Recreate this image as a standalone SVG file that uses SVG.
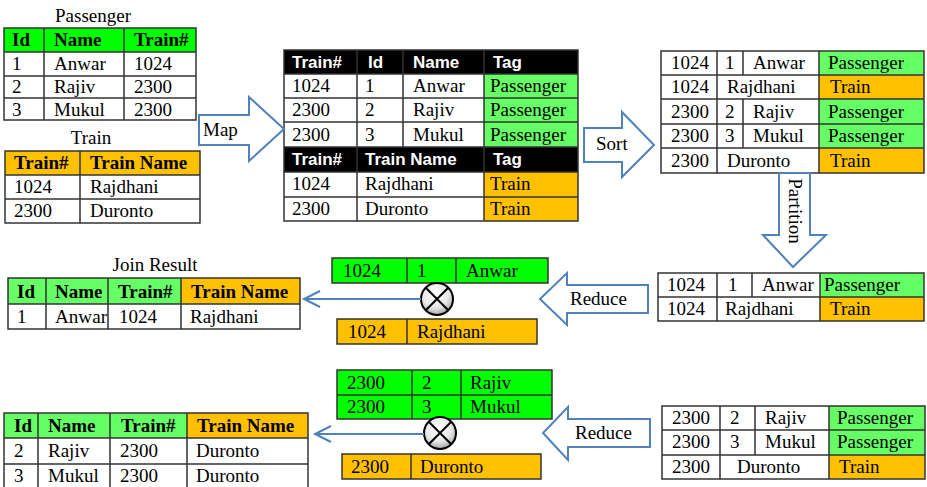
<svg xmlns="http://www.w3.org/2000/svg" width="927" height="487" viewBox="0 0 927 487">
<defs>
<style>
.t{font-family:"Liberation Serif","Times New Roman",serif;font-size:19px;fill:#000}
.b{font-weight:bold}
.h{font-family:"Liberation Sans",Arial,sans-serif;font-size:17px;font-weight:bold;fill:#fff}
.g1{fill:#00ff00}
.g2{fill:#66ff66}
.o{fill:#ffc000}
.k{fill:#000}
.grid{stroke:#333;stroke-width:1.5;fill:none}
.barrow{fill:#fff;stroke:#4f81bd;stroke-width:2}
.conn{stroke:#4f81bd;stroke-width:2;fill:none}
</style>
<radialGradient id="cg" cx="0.45" cy="0.35" r="0.7">
<stop offset="0" stop-color="#ffffff"/>
<stop offset="0.6" stop-color="#e6e6e6"/>
<stop offset="1" stop-color="#9a9a9a"/>
</radialGradient>
</defs>
<rect width="927" height="487" fill="#fff"/>

<!-- Passenger table -->
<g id="passenger">
<text class="t" x="93" y="22" text-anchor="middle">Passenger</text>
<rect class="g1" x="4" y="28" width="192" height="24"/>
<g class="grid">
<rect x="4" y="28" width="192" height="92"/>
<path d="M4 52H196M4 76H196M4 98H196M44 28V120M124 28V120"/>
</g>
<text class="t b" x="12" y="46">Id</text><text class="t b" x="54" y="46">Name</text><text class="t b" x="134" y="46">Train#</text>
<text class="t" x="12" y="70">1</text><text class="t" x="54" y="70">Anwar</text><text class="t" x="134" y="70">1024</text>
<text class="t" x="12" y="93">2</text><text class="t" x="54" y="93">Rajiv</text><text class="t" x="134" y="93">2300</text>
<text class="t" x="12" y="116">3</text><text class="t" x="54" y="116">Mukul</text><text class="t" x="134" y="116">2300</text>
</g>

<!-- Train table -->
<g id="train">
<text class="t" x="91" y="144" text-anchor="middle">Train</text>
<rect class="o" x="5" y="151" width="195" height="24"/>
<g class="grid">
<rect x="5" y="151" width="195" height="72"/>
<path d="M5 175H200M5 199H200M80 151V223"/>
</g>
<text class="t b" x="14" y="169">Train#</text><text class="t b" x="90" y="169">Train Name</text>
<text class="t" x="14" y="193">1024</text><text class="t" x="90" y="193">Rajdhani</text>
<text class="t" x="14" y="217">2300</text><text class="t" x="90" y="217">Duronto</text>
</g>

<!-- Map output table -->
<g id="mapped">
<rect class="k" x="284" y="50" width="294" height="24"/>
<rect class="k" x="284" y="147" width="294" height="25"/>
<rect class="g2" x="484" y="74" width="94" height="73"/>
<rect class="o" x="484" y="172" width="94" height="49"/>
<g class="grid">
<rect x="284" y="50" width="294" height="171"/>
<path d="M284 74H578M284 98H578M284 122H578M284 147H578M284 172H578M284 197H578M357 50V221M403 50V147M484 50V221"/>
</g>
<text class="h" x="292" y="68">Train#</text><text class="h" x="368" y="68">Id</text><text class="h" x="413" y="68">Name</text><text class="h" x="493" y="68">Tag</text>
<text class="t" x="292" y="92">1024</text><text class="t" x="365" y="92">1</text><text class="t" x="413" y="92">Anwar</text><text class="t" x="490" y="92">Passenger</text>
<text class="t" x="292" y="116">2300</text><text class="t" x="365" y="116">2</text><text class="t" x="413" y="116">Rajiv</text><text class="t" x="490" y="116">Passenger</text>
<text class="t" x="292" y="141">2300</text><text class="t" x="365" y="141">3</text><text class="t" x="413" y="141">Mukul</text><text class="t" x="490" y="141">Passenger</text>
<text class="h" x="292" y="165">Train#</text><text class="h" x="365" y="165">Train Name</text><text class="h" x="493" y="165">Tag</text>
<text class="t" x="292" y="190">1024</text><text class="t" x="365" y="190">Rajdhani</text><text class="t" x="490" y="190">Train</text>
<text class="t" x="292" y="215">2300</text><text class="t" x="365" y="215">Duronto</text><text class="t" x="490" y="215">Train</text>
</g>

<!-- Sorted table -->
<g id="sorted">
<rect class="g2" x="819" y="51" width="105" height="24"/>
<rect class="o" x="819" y="75" width="105" height="24"/>
<rect class="g2" x="819" y="99" width="105" height="49"/>
<rect class="o" x="819" y="148" width="105" height="25"/>
<g class="grid">
<rect x="661" y="51" width="263" height="122"/>
<path d="M661 75H924M661 99H924M661 124H924M661 148H924M717 51V173M743 51V75M743 99V148M819 51V173"/>
</g>
<text class="t" x="671" y="69">1024</text><text class="t" x="725" y="69">1</text><text class="t" x="753" y="69">Anwar</text><text class="t" x="828" y="69">Passenger</text>
<text class="t" x="671" y="93">1024</text><text class="t" x="727" y="93">Rajdhani</text><text class="t" x="830" y="93">Train</text>
<text class="t" x="671" y="118">2300</text><text class="t" x="725" y="118">2</text><text class="t" x="753" y="118">Rajiv</text><text class="t" x="828" y="118">Passenger</text>
<text class="t" x="671" y="142">2300</text><text class="t" x="725" y="142">3</text><text class="t" x="753" y="142">Mukul</text><text class="t" x="828" y="142">Passenger</text>
<text class="t" x="671" y="167">2300</text><text class="t" x="727" y="167">Duronto</text><text class="t" x="830" y="167">Train</text>
</g>

<!-- Partition 1 table -->
<g id="part1">
<rect class="g2" x="820" y="273" width="104" height="24"/>
<rect class="o" x="820" y="297" width="104" height="24"/>
<g class="grid">
<rect x="658" y="273" width="266" height="48"/>
<path d="M658 297H924M717 273V321M752 273V297M820 273V321"/>
</g>
<text class="t" x="667" y="291">1024</text><text class="t" x="728" y="291">1</text><text class="t" x="762" y="291">Anwar</text><text class="t" x="824" y="291">Passenger</text>
<text class="t" x="667" y="315">1024</text><text class="t" x="725" y="315">Rajdhani</text><text class="t" x="830" y="315">Train</text>
</g>

<!-- Partition 2 table -->
<g id="part2">
<rect class="g2" x="829" y="406" width="96" height="49"/>
<rect class="o" x="829" y="455" width="96" height="24"/>
<g class="grid">
<rect x="662" y="406" width="263" height="73"/>
<path d="M662 430H925M662 455H925M720 406V479M755 406V455M829 406V479"/>
</g>
<text class="t" x="672" y="424">2300</text><text class="t" x="730" y="424">2</text><text class="t" x="765" y="424">Rajiv</text><text class="t" x="837" y="424">Passenger</text>
<text class="t" x="672" y="448">2300</text><text class="t" x="730" y="448">3</text><text class="t" x="765" y="448">Mukul</text><text class="t" x="837" y="448">Passenger</text>
<text class="t" x="672" y="473">2300</text><text class="t" x="737" y="473">Duronto</text><text class="t" x="839" y="473">Train</text>
</g>

<!-- Reduce 1 inputs -->
<g id="reduce1-pass">
<rect class="g1" x="332" y="258" width="216" height="25"/>
<g class="grid"><rect x="332" y="258" width="216" height="25"/><path d="M407 258V283M456 258V283"/></g>
<text class="t" x="343" y="277">1024</text><text class="t" x="417" y="277">1</text><text class="t" x="466" y="277">Anwar</text>
</g>
<g id="reduce1-train">
<rect class="o" x="337" y="319" width="200" height="25"/>
<g class="grid"><rect x="337" y="319" width="200" height="25"/><path d="M407 319V344"/></g>
<text class="t" x="348" y="338">1024</text><text class="t" x="417" y="338">Rajdhani</text>
</g>

<!-- Reduce 2 inputs -->
<g id="reduce2-pass">
<rect class="g1" x="337" y="370" width="215" height="49"/>
<g class="grid"><rect x="337" y="370" width="215" height="49"/><path d="M337 395H552M412 370V419M461 370V419"/></g>
<text class="t" x="347" y="389">2300</text><text class="t" x="422" y="389">2</text><text class="t" x="470" y="389">Rajiv</text>
<text class="t" x="347" y="413">2300</text><text class="t" x="422" y="413">3</text><text class="t" x="470" y="413">Mukul</text>
</g>
<g id="reduce2-train">
<rect class="o" x="342" y="454" width="199" height="25"/>
<g class="grid"><rect x="342" y="454" width="199" height="25"/><path d="M411 454V479"/></g>
<text class="t" x="351" y="473">2300</text><text class="t" x="420" y="473">Duronto</text>
</g>

<!-- Join result 1 -->
<g id="join1">
<text class="t" x="155" y="271" text-anchor="middle">Join Result</text>
<rect class="g2" x="8" y="278" width="173" height="26"/>
<rect class="o" x="181" y="278" width="119" height="26"/>
<g class="grid">
<rect x="8" y="278" width="292" height="51"/>
<path d="M8 304H300M46 278V329M108 278V329M181 278V329"/>
</g>
<text class="t b" x="17" y="298">Id</text><text class="t b" x="55" y="298">Name</text><text class="t b" x="118" y="298">Train#</text><text class="t b" x="191" y="298">Train Name</text>
<text class="t" x="17" y="323">1</text><text class="t" x="55" y="323" textLength="52" lengthAdjust="spacingAndGlyphs">Anwar</text><text class="t" x="119" y="323">1024</text><text class="t" x="190" y="323">Rajdhani</text>
</g>

<!-- Join result 2 -->
<g id="join2">
<rect class="g2" x="4" y="413" width="183" height="25"/>
<rect class="o" x="187" y="413" width="121" height="25"/>
<g class="grid">
<rect x="4" y="413" width="304" height="76"/>
<path d="M4 438H308M4 464H308M38 413V489M110 413V489M187 413V489"/>
</g>
<text class="t b" x="14" y="432">Id</text><text class="t b" x="48" y="432">Name</text><text class="t b" x="121" y="432">Train#</text><text class="t b" x="197" y="432">Train Name</text>
<text class="t" x="14" y="457">2</text><text class="t" x="48" y="457">Rajiv</text><text class="t" x="120" y="457">2300</text><text class="t" x="196" y="457">Duronto</text>
<text class="t" x="14" y="482">3</text><text class="t" x="48" y="482">Mukul</text><text class="t" x="120" y="482">2300</text><text class="t" x="196" y="482">Duronto</text>
</g>

<!-- Block arrows and join operators -->
<g id="map-arrow">
<path class="barrow" d="M199 115H249V97L284 129L249 161V145H199Z"/>
<text class="t" x="203" y="136">Map</text>
</g>
<g id="sort-arrow">
<path class="barrow" d="M584 128H622V112L654 145L622 177V162H584Z"/>
<text class="t" x="596" y="150">Sort</text>
</g>
<g id="partition-arrow">
<path class="barrow" d="M779 173H810V235H826L793 267L763 235H779Z"/>
<text class="t" transform="translate(789 211) rotate(90)" text-anchor="middle">Partition</text>
</g>
<g id="reduce-arrow-1">
<path class="barrow" d="M648 285H567V273L540 299L567 325V313H648Z"/>
<text class="t" x="570" y="305">Reduce</text>
</g>
<g id="reduce-arrow-2">
<path class="barrow" d="M650 419H568V407L543 433L568 460V447H650Z"/>
<text class="t" x="575" y="439">Reduce</text>
</g>
<g id="join-op-1">
<circle cx="437" cy="299" r="16" fill="url(#cg)" stroke="#000" stroke-width="2"/>
<path d="M426 288L448 310M448 288L426 310" stroke="#000" stroke-width="2"/>
</g>
<g id="join-op-2">
<circle cx="440" cy="433" r="16" fill="url(#cg)" stroke="#000" stroke-width="2"/>
<path d="M429 422L451 444M451 422L429 444" stroke="#000" stroke-width="2"/>
</g>

<!-- Connectors -->
<g id="connectors">
<path class="conn" d="M421 299H304M320 291L304 299L320 307"/>
<path class="conn" d="M424 434H315M331 426L315 434L331 442"/>
</g>
</svg>
